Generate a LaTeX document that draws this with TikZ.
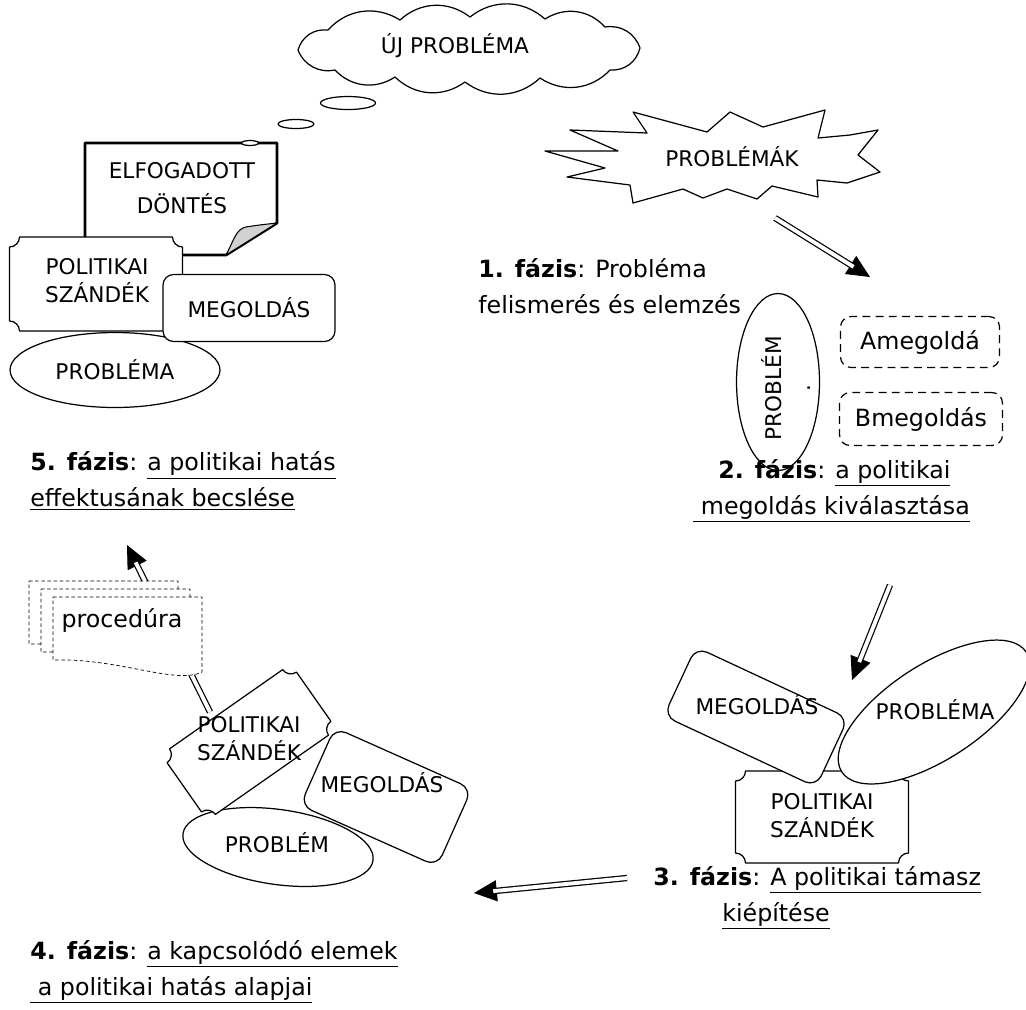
\documentclass[tikz,border=0pt]{standalone}
\usepackage{fontspec}
\setmainfont{DejaVu Sans}
\usetikzlibrary{shapes.geometric,arrows.meta}
\newcommand\lblfont{\fontsize{12.3}{16}\selectfont}
\newcommand\phfont{\fontsize{13.5}{20.5}\selectfont}
\tikzset{
shp/.style={draw, fill=white, line width=0.7pt}, % outline of every shape
lbl/.style={font=\lblfont, align=center, inner sep=0pt}, % capital labels inside the shapes
phase/.style={font=\phfont, align=left, anchor=west, inner sep=0pt}, % the phase captions
dbl/.style={double, double distance=2.2pt, line width=0.7pt, shorten >=11pt}, % shaft of the big arrows
head/.style={-{Triangle[length=13pt,width=12pt]}, line width=0.5pt}, % head of the big arrows
dashbox/.style={draw, dash pattern=on 4.5pt off 3pt, rounded corners=6pt, line width=0.7pt, font=\phfont},
pics/plaque/.style n args={2}{code={ % rectangle with hollow corners
  \draw[shp] (-#1/2+10,#2/2) -- (#1/2-10,#2/2) arc[start angle=180,end angle=270,radius=10]
    -- (#1/2,-#2/2+10) arc[start angle=90,end angle=180,radius=10]
    -- (-#1/2+10,-#2/2) arc[start angle=0,end angle=90,radius=10]
    -- (-#1/2,#2/2-10) arc[start angle=270,end angle=360,radius=10] -- cycle;
}},
}

\begin{document}
\begin{tikzpicture}[x=0.02cm, y=-0.02cm, line join=round]
\useasboundingbox (0,0) rectangle (1026,1009);

% new problem cloud
\draw[shp] (298,50) to[bend left=40] (328,30) to[bend left=40] (400,20) to[bend left=40] (470,17)
  to[bend left=40] (545,19) to[bend left=40] (605,27) to[bend left=40] (640,48) to[bend left=40] (610,70)
  to[bend left=40] (540,78) to[bend left=40] (465,82) to[bend left=40] (395,77) to[bend left=40] (335,70)
  to[bend left=40] (298,50);
\node[lbl] (cloud) at (455,46) {ÚJ PROBLÉMA};
\node[shp, ellipse, minimum width=1.1cm, minimum height=0.26cm, inner sep=0pt] (b1) at (348,103) {};
\node[shp, ellipse, minimum width=0.72cm, minimum height=0.18cm, inner sep=0pt] (b2) at (296,124) {};

% 5th phase: accepted decision
\draw[shp, line width=1.6pt] (85,143) -- (277,143) -- (277,223) -- (226,255) -- (85,255) -- cycle;
\draw[line width=0.6pt, fill=gray!35] (226,255) .. controls (234,240) and (236,229) .. (246,227) .. controls (258,225) and (268,224) .. (277,223) -- cycle;
\node[shp, ellipse, minimum width=0.34cm, minimum height=0.1cm, inner sep=0pt] (b3) at (250,143) {};
\node[lbl] (dec) at (182,188) {ELFOGADOTT\\[4pt]DÖNTÉS};
\node[shp, ellipse, minimum width=4.2cm, minimum height=1.5cm, font=\lblfont] (pr5) at (115,370) {PROBLÉMA};
\pic at (96,284) {plaque={173}{94}};
\node[lbl] (pl5) at (97,281) {POLITIKAI\\SZÁNDÉK};
\node[shp, rounded corners=6pt, minimum width=3.44cm, minimum height=1.34cm, font=\lblfont] (me5) at (249,308) {MEGOLDÁS};

% problems
\draw[shp] (567,177) -- (605,168) -- (545,151) -- (618,151) -- (570,130) -- (647,133) -- (633,112)
  -- (707,132) -- (730,112) -- (763,127) -- (825,110) -- (818,138) -- (850,135) -- (878,130)
  -- (858,155) -- (880,172) -- (847,183) -- (817,180) -- (818,197) -- (772,186) -- (757,199)
  -- (727,189) -- (703,198) -- (683,189) -- (633,203) -- (630,185) -- cycle;
\node[lbl] (probs) at (732,157) {PROBLÉMÁK};

% 2nd phase
\node[shp, ellipse, minimum width=1.66cm, minimum height=3.54cm] (pr2) at (778,382) {};
\node[lbl, rotate=90] (pr2t) at (786,388) {PROBLÉM\\.};
\node[dashbox, minimum width=3.18cm, minimum height=1.02cm] (am) at (920,342) {Amegoldá};
\node[dashbox, minimum width=3.26cm, minimum height=1.06cm] (bm) at (921,419) {Bmegoldás};

% 3rd phase
\pic at (822,817) {plaque={173}{92}};
\node[shp, rounded corners=7pt, minimum width=3.36cm, minimum height=1.52cm, rotate=-25] (me3) at (756,717) {};
\node[shp, ellipse, minimum width=4.4cm, minimum height=1.9cm, rotate=33] (pr3) at (934,712) {};
\node[lbl] (me3t) at (757,705) {MEGOLDÁS};
\node[lbl] (pr3t) at (935,710) {PROBLÉMA};
\node[lbl] (pl3t) at (822,816) {POLITIKAI\\SZÁNDÉK};

% 4th phase
\coordinate (a4s) at (210,712);
\coordinate (a4e) at (127,545);
\draw[head] (a4s) -- (a4e);
\draw[dbl] (a4s) -- (a4e);
\foreach \dx/\dy in {-24/-16, -12/-8, 0/0}
  \draw[fill=white, line width=0.4pt, dash pattern=on 2pt off 1.5pt, shift={(\dx,\dy)}]
    (53,597) -- (202,597) -- (202,672) .. controls (175,685) and (120,658) .. (53,660) -- cycle;
\node[font=\phfont] (proc) at (122,620) {procedúra};
\node[shp, ellipse, minimum width=3.84cm, minimum height=1.5cm, rotate=-8] (pr4) at (278,847) {};
\node[shp, rounded corners=7pt, minimum width=3cm, minimum height=1.7cm, rotate=-24] (me4) at (386,797) {};
\pic[rotate=35] at (249,742) {plaque={158}{80}};
\node[lbl] (pl4t) at (249,739) {POLITIKAI\\SZÁNDÉK};
\node[lbl] (me4t) at (382,783) {MEGOLDÁS};
\node[lbl] (pr4t) at (277,843) {PROBLÉM};

% arrows between the phases
\coordinate (a1s) at (775,218);
\coordinate (a1e) at (870,277);
\draw[head] (a1s) -- (a1e);
\draw[dbl] (a1s) -- (a1e);
\coordinate (a2s) at (890,585);
\coordinate (a2e) at (852,680);
\draw[head] (a2s) -- (a2e);
\draw[dbl] (a2s) -- (a2e);
\coordinate (a3s) at (627,878);
\coordinate (a3e) at (474,893);
\draw[head] (a3s) -- (a3e);
\draw[dbl] (a3s) -- (a3e);

% phase captions
\node[phase] (f1) at (478,286) {\textbf{1. fázis}: Probléma\\felismerés és elemzés};
\node[phase] (f2) at (693,491) {\hspace*{0.5cm}\textbf{2. fázis}: \underline{a politikai}\\\underline{\ megoldás kiválasztása}};
\node[phase] (f3) at (653,898) {\textbf{3. fázis}: \underline{A politikai támasz}\\\hspace*{1.38cm}\underline{kiépítése}};
\node[phase] (f4) at (30,972) {\textbf{4. fázis}: \underline{a kapcsolódó elemek}\\\underline{\ a politikai hatás alapjai}};
\node[phase] (f5) at (30,481) {\textbf{5. fázis}: \underline{a politikai hatás}\\\underline{effektusának becslése}};
\end{tikzpicture}
\end{document}
